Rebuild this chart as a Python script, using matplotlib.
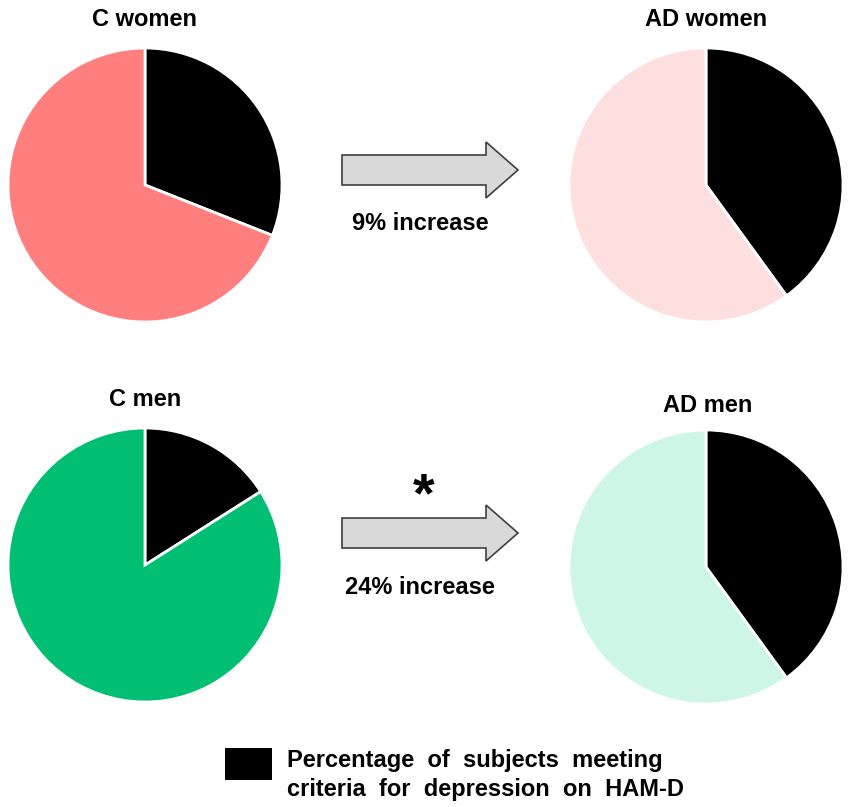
import matplotlib.pyplot as plt
from matplotlib.patches import FancyArrow, Rectangle

# percentage of subjects meeting criteria for depression (HAM-D)
groups = ["C women", "AD women", "C men", "AD men"]
depressed_pct = [31, 40, 16, 40]
group_colors = ["#FF7F7F", "#FDDFDF", "#00BF72", "#CDF6E6"]

change_labels = ["9% increase", "24% increase"]
change_signif = ["", "*"]
legend_text = "Percentage  of  subjects  meeting\ncriteria  for  depression  on  HAM-D"

W, H = 851, 807
plt.rcParams['font.family'] = ['Liberation Sans', 'DejaVu Sans']

fig = plt.figure(figsize=(W / 100, H / 100), dpi=100)
ax = fig.add_axes([0, 0, 1, 1])


def py(y):
    # pixel row (top-down) -> data y
    return H - y


# pie centres, radius, title positions (pixels)
pie_pos = [(145, 185), (706, 185), (145, 565), (706, 567)]
title_pos = [(145, 19), (706, 20), (145, 399), (708, 405)]
radius = 137

for name, pct, col, (cx, cy), (tx, ty) in zip(groups, depressed_pct, group_colors, pie_pos, title_pos):
    ax.pie([pct, 100 - pct], colors=["black", col], startangle=90, counterclock=False,
           center=(cx, py(cy)), radius=radius, frame=True,
           wedgeprops=dict(edgecolor="white", linewidth=2))
    ax.text(tx, py(ty), name, ha="center", va="center", fontsize=17, fontweight="bold")

# pie() resets limits / aspect
ax.set_xlim(0, W)
ax.set_ylim(0, H)
ax.set_aspect('auto')
ax.axis('off')

# arrows between C and AD
arrow_rows = [170, 533]
for lab, sig, yr in zip(change_labels, change_signif, arrow_rows):
    arr = FancyArrow(342, py(yr), 176, 0, width=30, head_width=56, head_length=32,
                     length_includes_head=True, facecolor="#D9D9D9", edgecolor="#404040",
                     linewidth=1.2)
    ax.add_patch(arr)
    ax.text(420, py(yr + 54), lab, ha="center", va="center", fontsize=17, fontweight="bold")
    if sig:
        ax.text(424, py(yr - 36), sig, ha="center", va="center", fontsize=40, fontweight="bold")

# legend
ax.add_patch(Rectangle((225, py(780)), 47, 32, facecolor="black", edgecolor="none"))
ax.text(287, py(775), legend_text, ha="left", va="center", fontsize=17, fontweight="bold",
        linespacing=1.3)

fig.savefig("out.png", dpi=100)
